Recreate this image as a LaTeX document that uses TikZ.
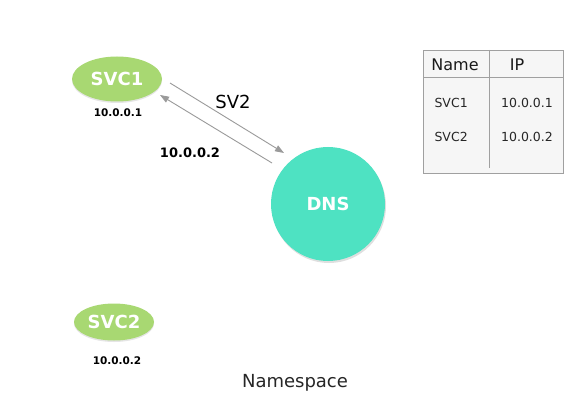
\documentclass[tikz,border=0pt]{standalone}
\usepackage{fontspec}
\setmainfont{DejaVu Sans}
\usetikzlibrary{shapes.geometric,arrows.meta,shadows}
\definecolor{svcgreen}{HTML}{A8D872}
\definecolor{dnsgreen}{HTML}{4EE2C2}
\definecolor{arrowgray}{HTML}{9A9A9A}
\definecolor{tablefill}{HTML}{F6F6F6}
\definecolor{tableline}{HTML}{A0A0A0}
\begin{document}
\begin{tikzpicture}[x=1pt,y=-1pt,
  svc/.style={ellipse, fill=svcgreen, inner sep=0pt, text=white,
    font=\fontsize{18}{20}\selectfont\bfseries,
    drop shadow={shadow xshift=0pt, shadow yshift=-1.5pt, opacity=0.2}},
  dnsnode/.style={circle, fill=dnsgreen, inner sep=0pt, minimum size=114pt, text=white,
    font=\fontsize{18}{20}\selectfont\bfseries,
    drop shadow={shadow xshift=1pt, shadow yshift=-2pt, opacity=0.25}},
  iplabel/.style={font=\fontsize{10.5}{12}\selectfont\bfseries, text=black},
  arr/.style={draw=arrowgray, line width=0.9pt, -{Triangle[length=9pt,width=6.5pt]}, arrowgray},
  cell/.style={font=\fontsize{12.5}{14}\selectfont, text=black!85},
  head/.style={font=\fontsize{16}{18}\selectfont, text=black!90}
]
\useasboundingbox (0,0) rectangle (585,403);
\fill[white] (0,0) rectangle (585,403);

% services
\node[svc, minimum width=90pt, minimum height=45pt] (svc1) at (117,79) {SVC1};
\node[iplabel] (ip1) at (118,113) {10.0.0.1};
\node[svc, minimum width=80pt, minimum height=37pt] (svc2) at (114,322) {SVC2};
\node[iplabel] (ip2) at (117,361) {10.0.0.2};

% DNS
\node[dnsnode] (dns) at (328,204) {DNS};

% arrows
\coordinate (q1s) at (170,83);
\coordinate (q1e) at (284,153);
\coordinate (q2s) at (272,163);
\coordinate (q2e) at (160,95);
\draw[arr] (q1s) -- (q1e);
\draw[arr] (q2s) -- (q2e);
\node[font=\fontsize{18}{20}\selectfont, text=black] (sv2) at (233,102) {SV2};
\node[font=\fontsize{13}{15}\selectfont\bfseries, text=black] (ret) at (190,153) {10.0.0.2};

% table
\draw[draw=tableline, fill=tablefill, line width=0.8pt] (423,50) rectangle (563,173);
\coordinate (hl) at (423,77);
\coordinate (hr) at (563,77);
\coordinate (vt) at (489,50);
\coordinate (vb) at (489,168);
\draw[draw=tableline, line width=0.8pt] (hl) -- (hr);
\draw[draw=tableline, line width=0.8pt] (vt) -- (vb);
\node[head] (hname) at (455,65) {Name};
\node[head] (hip) at (517,65) {IP};
\node[cell, anchor=west] (r1n) at (431,103) {SVC1};
\node[cell] (r1i) at (527,103) {10.0.0.1};
\node[cell, anchor=west] (r2n) at (431,137) {SVC2};
\node[cell] (r2i) at (527,137) {10.0.0.2};

% namespace
\node[font=\fontsize{18}{20}\selectfont, text=black!85] (ns) at (295,383) {Namespace};
\end{tikzpicture}
\end{document}
